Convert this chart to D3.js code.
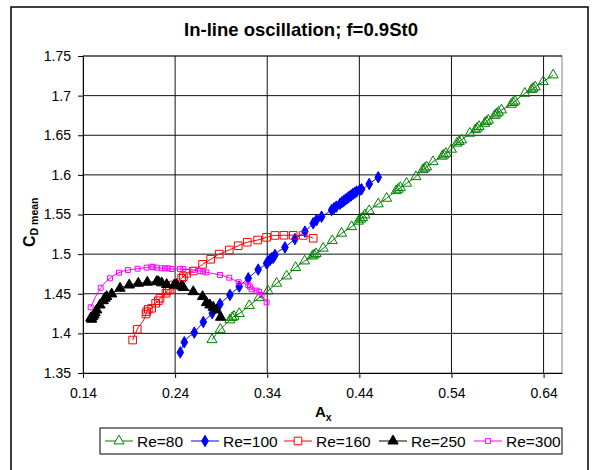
<!DOCTYPE html>
<html>
<head>
<meta charset="utf-8">
<script src="https://cdn.jsdelivr.net/npm/d3@7"></script>
<style>
  body { margin: 0; background: #fff; }
  svg { font-family: "Liberation Sans", Arial, sans-serif; }
</style>
</head>
<body>
<svg id="chart" width="594" height="470"></svg>
<script>
// values: [Ax, CD mean]
const re80 = [
  [0.280, 1.392], [0.289, 1.405], [0.2995, 1.417], [0.302, 1.420], [0.304, 1.4215],
  [0.3096, 1.425], [0.3205, 1.435], [0.331, 1.445], [0.3408, 1.4535], [0.3502, 1.4632],
  [0.361, 1.4724], [0.3708, 1.483], [0.3806, 1.4913], [0.389, 1.4975], [0.391, 1.499],
  [0.393, 1.5005], [0.4008, 1.5074], [0.4106, 1.517], [0.4207, 1.5263], [0.4316, 1.5346],
  [0.439, 1.5415], [0.4413, 1.544], [0.4435, 1.546], [0.446, 1.5494], [0.4507, 1.5548],
  [0.4605, 1.5633], [0.4696, 1.5704], [0.480, 1.580], [0.4822, 1.5818], [0.4845, 1.584],
  [0.4913, 1.5894], [0.5014, 1.5977], [0.509, 1.6065], [0.511, 1.6083], [0.513, 1.610],
  [0.520, 1.6166], [0.530, 1.6235], [0.5318, 1.6251], [0.534, 1.627], [0.540, 1.6323],
  [0.546, 1.640], [0.5484, 1.6419], [0.551, 1.644], [0.560, 1.6525], [0.566, 1.657],
  [0.5679, 1.6588], [0.570, 1.661], [0.576, 1.665], [0.578, 1.6671], [0.580, 1.669],
  [0.587, 1.675], [0.5889, 1.6768], [0.591, 1.679], [0.5943, 1.6819], [0.605, 1.689],
  [0.607, 1.6912], [0.609, 1.693], [0.6197, 1.7029], [0.627, 1.7075], [0.6287, 1.7092],
  [0.631, 1.711], [0.6396, 1.7176], [0.6504, 1.726]
];
const re100 = [
  [0.2456, 1.376], [0.25, 1.3888], [0.2608, 1.401], [0.2706, 1.4144], [0.2803, 1.4255],
  [0.2887, 1.437], [0.2995, 1.4485], [0.3096, 1.459], [0.3194, 1.4695], [0.3302, 1.4805],
  [0.3393, 1.4884], [0.341, 1.4905], [0.3429, 1.4926], [0.3447, 1.4947], [0.3465, 1.4955],
  [0.3484, 1.4989], [0.3592, 1.5085], [0.37, 1.519], [0.3809, 1.5284], [0.3899, 1.5389],
  [0.3936, 1.5431], [0.399, 1.5473], [0.4099, 1.5557], [0.4125, 1.558], [0.415, 1.560],
  [0.419, 1.5635], [0.421, 1.5655], [0.423, 1.567], [0.425, 1.569], [0.427, 1.5705],
  [0.429, 1.5725], [0.431, 1.574], [0.433, 1.576], [0.435, 1.5775], [0.437, 1.579],
  [0.4406, 1.581], [0.4424, 1.5818], [0.4507, 1.5885], [0.4605, 1.597]
];
const re160 = [
  [0.1939, 1.3916], [0.1989, 1.4052], [0.2084, 1.4245], [0.2091, 1.4274], [0.2109, 1.4304],
  [0.2146, 1.4317], [0.2189, 1.438], [0.2217, 1.4412], [0.2236, 1.4443], [0.2301, 1.4506],
  [0.2315, 1.4535], [0.2338, 1.4556], [0.238, 1.461], [0.2471, 1.4695], [0.249, 1.4716],
  [0.2525, 1.4758], [0.2597, 1.4787], [0.2698, 1.4871], [0.2786, 1.4935], [0.2879, 1.5],
  [0.2988, 1.5052], [0.3085, 1.5106], [0.3183, 1.515], [0.3296, 1.5178], [0.3393, 1.5212],
  [0.3484, 1.5236], [0.3581, 1.5238], [0.3682, 1.5238], [0.379, 1.5236], [0.3899, 1.52]
];
const re250 = [
  [0.1485, 1.4195], [0.1494, 1.4178], [0.1505, 1.421], [0.1519, 1.4232], [0.153, 1.426],
  [0.1549, 1.4295], [0.1584, 1.4358], [0.162, 1.4412], [0.1639, 1.4443], [0.1657, 1.4464],
  [0.1711, 1.4497], [0.1802, 1.4569], [0.1902, 1.461], [0.2, 1.4632], [0.2098, 1.4645],
  [0.22, 1.4653], [0.2217, 1.4653], [0.2254, 1.4637], [0.2308, 1.4616], [0.2389, 1.4609],
  [0.2415, 1.4616], [0.247, 1.4597], [0.249, 1.4578], [0.2597, 1.4526], [0.2698, 1.4464],
  [0.2741, 1.4388], [0.2778, 1.4358], [0.2814, 1.4329], [0.285, 1.4295], [0.2894, 1.4203]
];
const re300 = [
  [0.1483, 1.4329], [0.1592, 1.4576], [0.1693, 1.4695], [0.1791, 1.4766], [0.1888, 1.48],
  [0.1993, 1.4816], [0.209, 1.483], [0.2144, 1.4842], [0.2163, 1.4834], [0.22, 1.483],
  [0.2254, 1.4821], [0.229, 1.4821], [0.2326, 1.4821], [0.2362, 1.4812], [0.2453, 1.4812],
  [0.249, 1.4812], [0.2597, 1.48], [0.267, 1.4787], [0.2705, 1.4779], [0.2741, 1.477],
  [0.2887, 1.4737], [0.2988, 1.4703], [0.3089, 1.4645], [0.3194, 1.461], [0.3212, 1.459],
  [0.323, 1.4556], [0.3284, 1.454], [0.3313, 1.4526], [0.3339, 1.4484], [0.3393, 1.439]
];

const seriesNames = ['Re=80', 'Re=100', 'Re=160', 'Re=250', 'Re=300'];
const xTicks = [0.14, 0.24, 0.34, 0.44, 0.54, 0.64];
const yTicks = [1.35, 1.4, 1.45, 1.5, 1.55, 1.6, 1.65, 1.7, 1.75];

const styles = [
  { data: re80, color: '#008000', shape: d3.symbolTriangle, size: 44, fill: 'none' },
  { data: re100, color: '#0000ff', shape: d3.symbolDiamond, size: 38, fill: '#0000ff' },
  { data: re160, color: '#ff0000', shape: d3.symbolSquare, size: 58, fill: 'none' },
  { data: re250, color: '#000000', shape: d3.symbolTriangle, size: 46, fill: '#000000' },
  { data: re300, color: '#ff00ff', shape: d3.symbolSquare, size: 24, fill: 'none' },
];

const svg = d3.select('#chart');
const m = { left: 83, right: 562, top: 56, bottom: 373 };

const x = d3.scaleLinear().domain([0.14, 0.66]).range([m.left, m.right]);
const y = d3.scaleLinear().domain([1.35, 1.75]).range([m.bottom, m.top]);

// chart frame
svg.append('rect')
  .attr('x', 11).attr('y', 7)
  .attr('width', 577).attr('height', 470)
  .attr('fill', '#fff').attr('stroke', '#000').attr('stroke-width', 1.5);

// title
svg.append('text')
  .attr('x', 301).attr('y', 36)
  .attr('text-anchor', 'middle')
  .style('font-size', '18.5px').style('font-weight', 'bold')
  .text('In-line oscillation; f=0.9St0');

// plot area border
svg.append('rect')
  .attr('x', m.left).attr('y', m.top)
  .attr('width', m.right - m.left).attr('height', m.bottom - m.top)
  .attr('fill', 'none').attr('stroke', '#808080');

// gridlines
svg.append('g')
  .selectAll('line')
  .data(yTicks.slice(1))
  .join('line')
  .attr('x1', m.left).attr('x2', m.right)
  .attr('y1', d => y(d)).attr('y2', d => y(d))
  .attr('stroke', '#111').attr('stroke-width', 1);
svg.append('g')
  .selectAll('line')
  .data(xTicks.slice(1))
  .join('line')
  .attr('x1', d => x(d)).attr('x2', d => x(d))
  .attr('y1', m.top).attr('y2', m.bottom)
  .attr('stroke', '#111').attr('stroke-width', 1);

// axes
const yAxis = svg.append('g')
  .attr('transform', `translate(${m.left},0)`)
  .call(d3.axisLeft(y).tickValues(yTicks).tickFormat(d => String(d))
    .tickSize(5).tickSizeOuter(0).tickPadding(7));
const xAxis = svg.append('g')
  .attr('transform', `translate(0,${m.bottom})`)
  .call(d3.axisBottom(x).tickValues(xTicks).tickFormat(d => String(d))
    .tickSize(5).tickSizeOuter(0).tickPadding(10));
[xAxis, yAxis].forEach(a => {
  a.selectAll('text').style('font-size', '14px').attr('fill', '#000')
    .style('font-family', '"Liberation Sans", Arial, sans-serif');
  a.select('.domain').attr('stroke', '#000');
  a.selectAll('.tick line').attr('stroke', '#000');
});

// axis titles
const yTitle = svg.append('text')
  .attr('transform', 'translate(35,247) rotate(-90)')
  .style('font-weight', 'bold');
yTitle.append('tspan').style('font-size', '16px').text('C');
yTitle.append('tspan').style('font-size', '10.5px').attr('dy', 3).text('D mean');

const xTitle = svg.append('text')
  .attr('x', 315).attr('y', 417)
  .style('font-weight', 'bold');
xTitle.append('tspan').style('font-size', '15px').text('A');
xTitle.append('tspan').style('font-size', '10.5px').attr('dy', 4).text('x');

// series
const line = d3.line()
  .x(d => x(d[0])).y(d => y(d[1]))
  .curve(d3.curveMonotoneX);

styles.forEach(s => {
  const g = svg.append('g');
  g.append('path')
    .attr('d', line(s.data))
    .attr('fill', 'none')
    .attr('stroke', s.color)
    .attr('stroke-width', 1);
  g.selectAll('path.pt')
    .data(s.data)
    .join('path')
    .attr('class', 'pt')
    .attr('transform', d => `translate(${x(d[0])},${y(d[1])})`)
    .attr('d', d3.symbol(s.shape, s.size))
    .attr('fill', s.fill === 'none' ? '#fff' : s.fill)
    .attr('fill-opacity', s.fill === 'none' ? 0 : 1)
    .attr('stroke', s.color)
    .attr('stroke-width', 1);
});

// legend
const legend = svg.append('g');
legend.append('rect')
  .attr('x', 100).attr('y', 428)
  .attr('width', 462).attr('height', 26)
  .attr('fill', '#fff').attr('stroke', '#000');
const legendX = [105, 191, 284, 379, 474];
seriesNames.forEach((name, i) => {
  const s = styles[i];
  const lx = legendX[i];
  legend.append('line')
    .attr('x1', lx).attr('x2', lx + 28)
    .attr('y1', 441).attr('y2', 441)
    .attr('stroke', s.color);
  legend.append('path')
    .attr('transform', `translate(${lx + 14},441)`)
    .attr('d', d3.symbol(s.shape, s.size))
    .attr('fill', s.fill === 'none' ? '#fff' : s.fill)
    .attr('stroke', s.color);
  legend.append('text')
    .attr('x', lx + 32).attr('y', 447)
    .style('font-size', '15.5px')
    .text(name);
});
</script>
</body>
</html>
